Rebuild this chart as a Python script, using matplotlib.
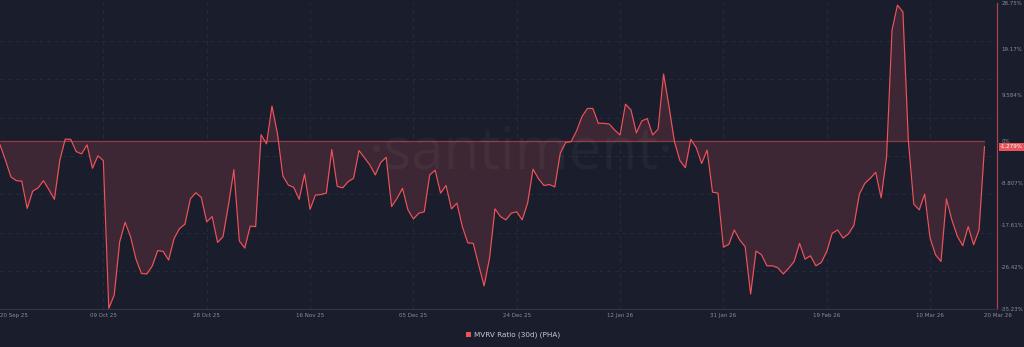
import matplotlib
matplotlib.use("Agg")
import matplotlib.pyplot as plt
import matplotlib.dates as mdates
import matplotlib.transforms as mtransforms
from matplotlib.patches import Rectangle
import numpy as np
import pandas as pd

# ---------------- data ----------------
start_date = "2025-09-20"
mvrv_30d = [
    -0.9, -4.1, -7.6, -8.4, -8.5, -14.2, -10.6, -9.9, -8.4, -10.3,
    -12.3, -4.1, 0.3, 0.25, -2.3, -2.8, -0.9, -5.8, -3.2, -4.2,
    -35.1, -32.3, -21.2, -17.1, -20.1, -24.8, -27.8, -27.9, -26.2, -23.0,
    -23.2, -25.0, -20.5, -18.4, -17.5, -12.2, -10.9, -11.9, -17.0, -15.9,
    -21.3, -20.1, -13.5, -6.1, -21.0, -22.5, -17.9, -18.0, 1.2, -0.7,
    7.2, 1.5, -7.4, -9.3, -9.8, -12.3, -7.0, -14.4, -11.4, -11.3,
    -11.0, -1.9, -9.6, -9.9, -8.6, -7.9, -2.1, -3.6, -5.1, -7.2,
    -4.6, -3.5, -13.8, -12.1, -10.0, -14.5, -16.4, -15.2, -14.9, -7.2,
    -6.2, -11.0, -9.4, -14.3, -13.1, -18.0, -21.4, -21.5, -26.0, -30.4,
    -24.6, -14.3, -15.9, -16.6, -15.2, -14.9, -16.6, -13.1, -6.0, -8.0,
    -9.4, -9.2, -9.7, -2.7, -0.4, -0.25, 2.0, 5.0, 6.7, 6.7,
    3.6, 3.6, 3.45, 2.2, 1.15, 7.6, 6.4, 1.6, 4.1, 4.6,
    1.15, 2.4, 13.9, 7.1, -0.25, -4.2, -5.7, 0.25, -1.5, -4.8,
    -2.0, -10.8, -11.0, -22.3, -21.7, -18.7, -20.8, -22.2, -32.1, -23.1,
    -23.9, -26.2, -26.2, -26.6, -27.9, -26.7, -25.3, -21.5, -24.8, -24.1,
    -26.2, -25.5, -23.2, -19.4, -18.7, -20.4, -19.5, -17.7, -11.2, -8.95,
    -7.9, -6.65, -12.0, -3.4, 23.1, 28.3, 26.9, 0.0, -13.3, -14.5,
    -11.2, -20.4, -23.9, -25.3, -12.2, -16.6, -20.0, -22.0, -18.0, -21.8,
    -18.7, -1.279,
]
dates = pd.date_range(start_date, periods=len(mvrv_30d), freq="D")

x_tick_dates = ["2025-09-20", "2025-10-09", "2025-10-28", "2025-11-16", "2025-12-05",
                "2025-12-24", "2026-01-12", "2026-01-31", "2026-02-19", "2026-03-10",
                "2026-03-20"]
x_tick_labels = ["20 Sep 25", "09 Oct 25", "28 Oct 25", "16 Nov 25", "05 Dec 25",
                 "24 Dec 25", "12 Jan 26", "31 Jan 26", "19 Feb 26", "10 Mar 26",
                 "20 Mar 26"]
y_tick_values = [28.75, 19.17, 9.584, 0, -8.807, -17.61, -26.42, -35.23]
y_tick_labels = ["28.75%", "19.17%", "9.584%", "0%", "-8.807%", "-17.61%", "-26.42%", "-35.23%"]
last_label = "-1.279%"
series_name = "MVRV Ratio (30d) (PHA)"

# ---------------- style ----------------
BG = "#1a1d2c"
LINE = "#f0525a"
FILL = "#3d2734"
GRID = "#272a3b"
ZERO = "#8e3b45"
TICK = "#8a8d99"

W, H = 1024, 347
fig = plt.figure(figsize=(W / 100, H / 100), dpi=100, facecolor=BG)
ax = fig.add_axes([0, 1 - 309 / H, 997 / W, 306 / H], facecolor=BG)

ymax, ymin = y_tick_values[0], y_tick_values[-1]
x0 = mdates.date2num(pd.Timestamp(start_date))
ax.set_xlim(x0, x0 + 183.3)
ax.set_ylim(ymin, ymax)

# grid
for gy in np.linspace(ymax, ymin, 9)[1:-1]:
    ax.axhline(gy, color=GRID, lw=0.7, ls=(0, (4, 4)), zorder=0)
for d in x_tick_dates[1:-1]:
    ax.axvline(pd.Timestamp(d), color=GRID, lw=0.7, ls=(0, (4, 4)), zorder=0)

# area + line
ax.fill_between(dates, mvrv_30d, 0, color=FILL, lw=0, zorder=2)
ax.plot([dates[0], dates[-1]], [0, 0], color=ZERO, lw=0.9, zorder=3)

# watermark (drawn over the area, under the line)
ax.text(0.523, 0.51, "·santiment·", transform=ax.transAxes, ha="center", va="center",
        fontsize=42, family="Open Sans", color="#ffffff", alpha=0.04, zorder=3.5)

ax.plot(dates, mvrv_30d, color=LINE, lw=0.85, zorder=4)

# spines
for s in ["top", "left"]:
    ax.spines[s].set_visible(False)
ax.spines["right"].set_color("#a8434e")
ax.spines["right"].set_linewidth(0.9)
ax.spines["bottom"].set_color("#33364a")
ax.spines["bottom"].set_linewidth(0.8)

# x ticks
ax.set_xticks([pd.Timestamp(d) for d in x_tick_dates])
ax.set_xticklabels(x_tick_labels)
ax.tick_params(axis="x", length=0, pad=3, labelsize=4, labelcolor=TICK)
xl = ax.get_xticklabels()
xl[0].set_ha("left")
xl[-1].set_ha("left")

# y ticks on right
ax.yaxis.tick_right()
ax.set_yticks(y_tick_values)
ax.set_yticklabels(y_tick_labels)
ax.tick_params(axis="y", length=0, pad=3, labelsize=4, labelcolor=TICK)

# last value badge
trans = mtransforms.blended_transform_factory(ax.transAxes, ax.transData)
ax.text(1.003, mvrv_30d[-1], last_label, transform=trans, ha="left", va="center",
        fontsize=4, color="white",
        bbox=dict(boxstyle="square,pad=0.25", fc="#e8555a", ec="none"), zorder=6,
        clip_on=False)

# legend
fig.add_artist(Rectangle((466 / W, 1 - 337 / H), 5 / W, 5 / H, transform=fig.transFigure,
                         color="#f0525a", lw=0))
fig.text(474 / W, 1 - 334.5 / H, series_name, ha="left", va="center",
         fontsize=5.2, color="#c9cbd2")

fig.savefig("out.png", dpi=100, facecolor=BG)
